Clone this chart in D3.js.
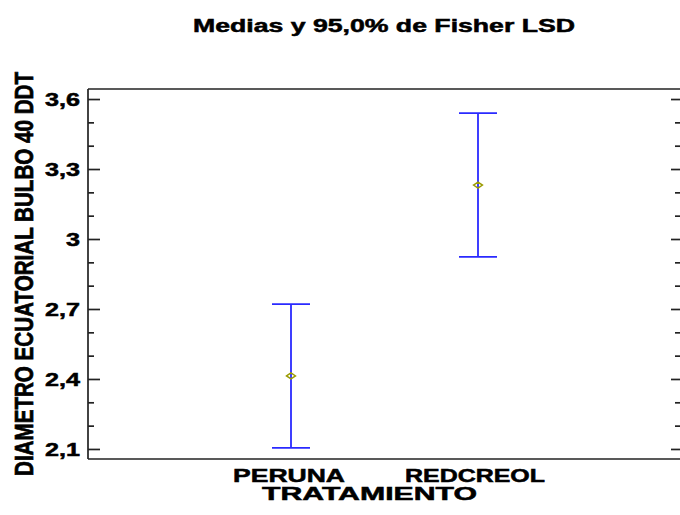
<!DOCTYPE html>
<html>
<head>
<meta charset="utf-8">
<script src="https://cdn.jsdelivr.net/npm/d3@7"></script>
<style>
  html, body { margin: 0; padding: 0; background: #fff; }
  svg { display: block; }
  text { font-family: Arial, "Liberation Sans", sans-serif; font-weight: bold; fill: #000; stroke: #000; stroke-width: 0.5px; }
</style>
</head>
<body>
<svg id="chart" width="680" height="515"></svg>
<script>
// ---- data ----
const categories = ["PERUNA", "REDCREOL"];
const means = [2.413, 3.231];
const lowerLimits = [2.105, 2.923];
const upperLimits = [2.721, 3.540];
const majorTicks = [2.1, 2.4, 2.7, 3.0, 3.3, 3.6];
const tickLabels = ["2,1", "2,4", "2,7", "3", "3,3", "3,6"];
const minorTicks = [2.2, 2.3, 2.5, 2.6, 2.8, 2.9, 3.1, 3.2, 3.4, 3.5];
const titleText = "Medias y 95,0% de Fisher LSD";
const xTitle = "TRATAMIENTO";
const yTitle = "DIAMETRO ECUATORIAL BULBO 40 DDT";

(function () {
const svg = d3.select("#chart");
const pL = 88, pR = 682, pT = 89, pB = 459;

const y = d3.scaleLinear().domain([2.057, 3.643]).range([pB, pT]);
const x = d3.scalePoint().domain(categories).range([291, 478]);

// frame
const frame = svg.append("g").attr("stroke", "#222").attr("stroke-width", 1.7).attr("fill", "none");
frame.append("line").attr("x1", pL).attr("x2", pR).attr("y1", pT).attr("y2", pT);
frame.append("line").attr("x1", pL).attr("x2", pR).attr("y1", pB).attr("y2", pB);
frame.append("line").attr("x1", pL).attr("x2", pL).attr("y1", pT).attr("y2", pB);

// left axis
const gL = svg.append("g").attr("transform", `translate(${pL},0)`)
  .call(d3.axisRight(y).tickValues(majorTicks).tickSize(12).tickFormat(""));
gL.select(".domain").remove();
const gLm = svg.append("g").attr("transform", `translate(${pL},0)`)
  .call(d3.axisRight(y).tickValues(minorTicks).tickSize(6).tickFormat(""));
gLm.select(".domain").remove();

// right axis
const gR = svg.append("g").attr("transform", `translate(${pR},0)`)
  .call(d3.axisLeft(y).tickValues(majorTicks).tickSize(11).tickFormat(""));
gR.select(".domain").remove();
const gRm = svg.append("g").attr("transform", `translate(${pR},0)`)
  .call(d3.axisLeft(y).tickValues(minorTicks).tickSize(7).tickFormat(""));
gRm.select(".domain").remove();

svg.selectAll(".tick line").attr("stroke", "#222").attr("stroke-width", 1.7);

// tick labels
svg.append("g").selectAll("text").data(majorTicks).join("text")
  .attr("transform", d => `translate(80,${y(d) + 7}) scale(1.4,1)`)
  .attr("text-anchor", "end")
  .attr("font-size", 18)
  .text((d, i) => tickLabels[i]);

// error bars
const bars = svg.append("g").attr("stroke", "#2a2aff").attr("stroke-width", 1.8);
categories.forEach((c, i) => {
  const cx = x(c);
  bars.append("line").attr("x1", cx).attr("x2", cx).attr("y1", y(upperLimits[i])).attr("y2", y(lowerLimits[i]));
  bars.append("line").attr("x1", cx - 19).attr("x2", cx + 19).attr("y1", y(upperLimits[i])).attr("y2", y(upperLimits[i]));
  bars.append("line").attr("x1", cx - 19).attr("x2", cx + 19).attr("y1", y(lowerLimits[i])).attr("y2", y(lowerLimits[i]));
});

// mean markers
svg.append("g").selectAll("path").data(categories).join("path")
  .attr("d", (c, i) => {
    const cx = x(c), cy = y(means[i]);
    return `M${cx - 4.5},${cy} L${cx},${cy - 3} L${cx + 4.5},${cy} L${cx},${cy + 3} Z`;
  })
  .attr("fill", "none").attr("stroke", "#9a9a00").attr("stroke-width", 1.4);

// category labels
const catCenters = [289, 475];
const catWidths = [112, 140];
svg.append("g").selectAll("text").data(categories).join("text")
  .attr("x", (c, i) => catCenters[i] - catWidths[i] / 2)
  .attr("y", 482)
  .attr("font-size", 18)
  .attr("textLength", (c, i) => catWidths[i])
  .attr("lengthAdjust", "spacingAndGlyphs")
  .text(d => d);

// axis titles
svg.append("text").attr("x", 262).attr("y", 500).attr("font-size", 18)
  .attr("textLength", 215).attr("lengthAdjust", "spacingAndGlyphs").text(xTitle);

svg.append("text")
  .attr("transform", "translate(33,274) scale(1.44,1) rotate(-90)")
  .attr("x", -202).attr("y", 0)
  .attr("font-size", 18)
  .attr("textLength", 404).attr("lengthAdjust", "spacingAndGlyphs")
  .text(yTitle);

// title
svg.append("text").attr("x", 193).attr("y", 32).attr("font-size", 18)
  .attr("textLength", 382).attr("lengthAdjust", "spacingAndGlyphs").text(titleText);
})();
</script>
</body>
</html>
